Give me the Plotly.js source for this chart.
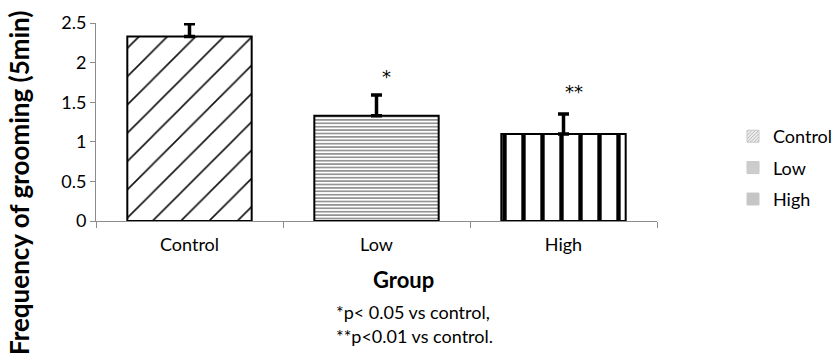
<!DOCTYPE html>
<html>
<head>
<meta charset="utf-8">
<script src="https://cdn.plot.ly/plotly-3.0.1.min.js"></script>
<style>html,body{margin:0;padding:0;background:#fff;}#chart{width:834px;height:358px;}</style>
</head>
<body>
<div id="chart"></div>
<script>
// Data
const groups = ["Control", "Low", "High"];
const means = [2.33, 1.33, 1.10];
const errUp = [0.16, 0.26, 0.25];
const sigMarks = ["", "*", "**"];
const sigLevels = [0, 1.82, 1.63];
const footnotes = ["*p< 0.05 vs control,", "**p<0.01 vs control."];
const yTitle = "Frequency of grooming (5min)";
const xTitle = "Group";

const FONT = "Lato, 'Open Sans', sans-serif";
const patterns = [
  {shape: "/", size: 20, solidity: 0.08, fgcolor: "#111", bgcolor: "#fff"},
  {shape: "-", size: 3.4, solidity: 0.35, fgcolor: "#666", bgcolor: "#fff"},
  {shape: "|", size: 19, solidity: 0.23, fgcolor: "#000", bgcolor: "#fff"}
];
const legendPatterns = [
  {shape: "/", size: 3, solidity: 0.35, fgcolor: "#aaa", bgcolor: "#eee"},
  {shape: "-", size: 2.5, solidity: 0.4, fgcolor: "#999", bgcolor: "#eee"},
  {shape: "|", size: 2.5, solidity: 0.4, fgcolor: "#888", bgcolor: "#eee"}
];

const traces = [];
groups.forEach((g, i) => {
  traces.push({
    type: "bar", x: [g], y: [means[i]], name: g, showlegend: false,
    width: 0.665,
    marker: {color: "#fff", pattern: patterns[i], line: {color: "#000", width: 2}},
    error_y: {type: "data", symmetric: false, array: [errUp[i]], arrayminus: [0],
              color: "#000", thickness: 3.5, width: 5.5},
    hoverinfo: "skip"
  });
});
// legend entries (same data, on a hidden axis so only the legend swatch shows)
groups.forEach((g, i) => {
  traces.push({
    type: "bar", x: [g], y: [means[i]], name: g, showlegend: true, yaxis: "y2",
    legendgroup: "g" + i, width: 0.665,
    marker: {color: "#eee", pattern: legendPatterns[i], line: {color: "#c8c8c8", width: 1}},
    hoverinfo: "skip"
  });
});

const L = 96, R = 177, T = 23, B = 137, W = 834, H = 358;
const pw = W - L - R, ph = H - T - B;
const px = v => (v - L) / pw;
const py = v => (H - B - v) / ph;

const annotations = [];
groups.forEach((g, i) => {
  if (sigMarks[i]) {
    annotations.push({x: g, y: sigLevels[i], xref: "x", yref: "y", text: sigMarks[i],
      showarrow: false, xshift: 10, font: {family: "'DejaVu Sans', sans-serif", size: 18, color: "#000"}});
  }
});
annotations.push({x: px(403), y: py(279), xref: "paper", yref: "paper", text: "<b>" + xTitle + "</b>",
  showarrow: false, xanchor: "center", yanchor: "middle",
  font: {family: FONT, size: 22, color: "#000"}});
annotations.push({x: px(19), y: py(183), xref: "paper", yref: "paper", text: "<b>" + yTitle + "</b>",
  showarrow: false, xanchor: "center", yanchor: "middle", textangle: -90,
  font: {family: FONT, size: 26, color: "#000"}});
footnotes.forEach((t, k) => {
  annotations.push({x: px(334), y: py(312 + k * 24), xref: "paper", yref: "paper", text: t,
    showarrow: false, xanchor: "left", yanchor: "middle",
    font: {family: FONT, size: 18, color: "#000"}});
});

const layout = {
  width: W, height: H,
  margin: {l: L, r: R, t: T, b: B, pad: 0, autoexpand: false},
  paper_bgcolor: "#fff", plot_bgcolor: "#fff",
  font: {family: FONT, size: 18, color: "#000"},
  barmode: "overlay",
  showlegend: true,
  legend: {x: px(733), y: py(118), xanchor: "left", yanchor: "top",
           font: {family: FONT, size: 18, color: "#000"}, tracegroupgap: 5,
           itemwidth: 30, bgcolor: "rgba(0,0,0,0)"},
  xaxis: {
    type: "category", showgrid: false, zeroline: false,
    showline: true, linecolor: "#8c8c8c", linewidth: 1,
    ticks: "outside", tickson: "boundaries", ticklen: 6, tickcolor: "#8c8c8c",
    ticklabelstandoff: 7,
    tickfont: {family: FONT, size: 18, color: "#000"}
  },
  yaxis: {
    range: [0, 2.5], dtick: 0.5, showgrid: false, zeroline: false,
    showline: true, linecolor: "#8c8c8c", linewidth: 1,
    ticks: "outside", ticklen: 5, tickcolor: "#8c8c8c",
    tickfont: {family: FONT, size: 18, color: "#000"}
  },
  yaxis2: {overlaying: "y", range: [100, 101], visible: false, fixedrange: true},
  annotations: annotations
};

Plotly.newPlot("chart", traces, layout, {displayModeBar: false, staticPlot: true});
</script>
</body>
</html>
